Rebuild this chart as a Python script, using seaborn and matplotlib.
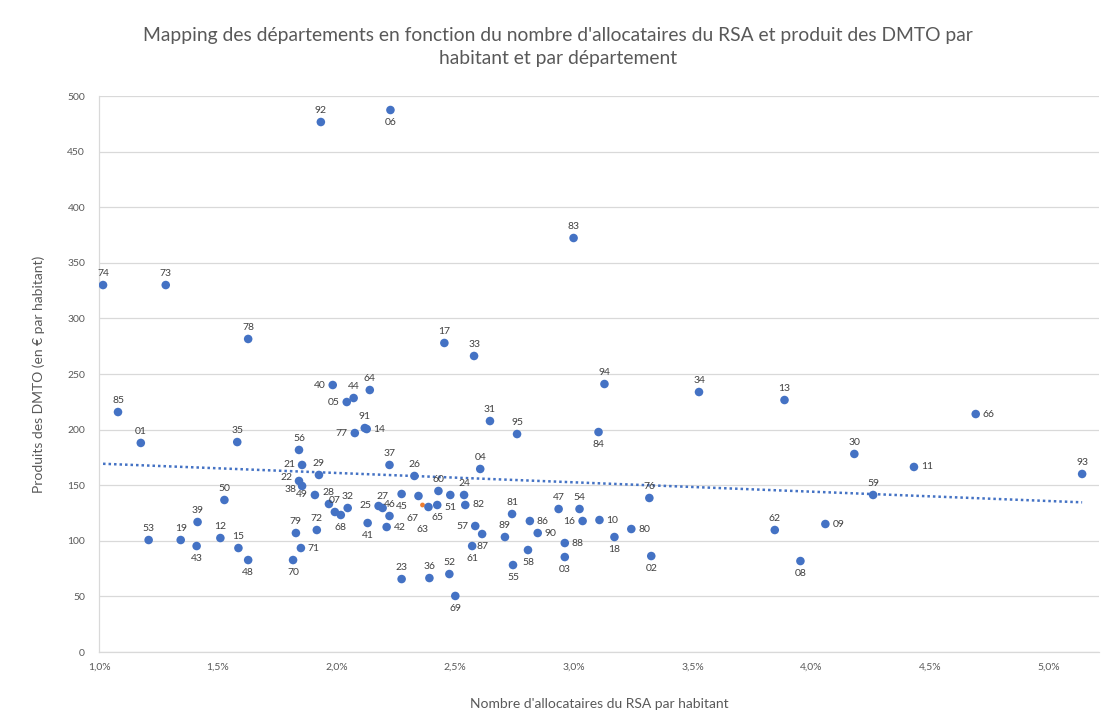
import numpy as np
import pandas as pd
import matplotlib
matplotlib.use("Agg")
import matplotlib.pyplot as plt
import seaborn as sns

# ---- data ----
depts = ["74","73","85","01","78","35","53","19","43","39","50","12","15","48",
         "92","06","56","21","29","22","38","49","28","07","68","32","79","72","71","70",
         "40","44","05","64","91","14","77","37","26","27","25","46","42","41",
         "45","67","63","65","60","51","24","82",
         "17","33","31","95","04","83","94","84","34","13","66","30","11","93","59","62","09","08",
         "76","80","02","18","10","16","54","47","88","03","81","86","90","89","58","55","57","87","61",
         "23","36","52","69"]
rsa_pct = [1.017,1.281,1.080,1.176,1.628,1.582,1.209,1.344,1.411,1.415,1.528,1.511,1.587,1.628,
           1.934,2.227,1.842,1.855,1.926,1.842,1.855,1.909,1.968,1.993,2.018,2.047,1.829,1.917,1.850,1.817,
           1.984,2.072,2.043,2.140,2.119,2.127,2.077,2.223,2.328,2.194,2.177,2.223,2.211,2.131,
           2.274,2.345,2.387,2.424,2.429,2.479,2.537,2.542,
           2.454,2.579,2.646,2.760,2.605,2.998,3.128,3.103,3.526,3.886,4.691,4.180,4.431,5.139,4.259,3.845,4.058,3.953,
           3.317,3.241,3.325,3.170,3.107,3.036,3.023,2.935,2.961,2.961,2.739,2.814,2.847,2.709,2.806,2.743,2.584,2.613,2.571,
           2.274,2.391,2.475,2.500]
dmto = [330.0,330.0,215.8,188.0,281.5,188.8,100.7,100.7,95.3,116.9,136.7,102.5,93.5,82.7,
        476.6,487.4,181.7,168.2,159.2,153.8,149.3,141.2,133.1,125.9,123.2,129.5,107.0,109.7,93.5,82.7,
        240.1,228.4,224.8,235.6,201.4,200.5,196.9,168.2,158.3,129.5,131.3,122.3,112.4,116.0,
        142.1,140.3,130.4,132.2,144.8,141.2,141.2,132.2,
        277.9,266.2,207.7,196.0,164.6,372.3,241.0,197.8,233.8,226.6,214.0,178.1,166.4,160.1,141.2,109.7,115.1,81.8,
        138.5,110.6,86.3,103.4,118.7,117.8,128.6,128.6,98.0,85.4,124.1,117.8,107.0,103.4,91.7,78.2,113.3,106.1,95.3,
        65.6,66.5,70.1,50.4]
# small orange point (second series)
extra_x = [2.362]
extra_y = [132.2]

x_ticks = [1.0, 1.5, 2.0, 2.5, 3.0, 3.5, 4.0, 4.5, 5.0]
x_tick_labels = ["1,0%", "1,5%", "2,0%", "2,5%", "3,0%", "3,5%", "4,0%", "4,5%", "5,0%"]
y_ticks = [0, 50, 100, 150, 200, 250, 300, 350, 400, 450, 500]

# label placement: a=above, b=below, r=right, l=left, bb=further below
label_pos = {"43":"b","48":"b","06":"b","21":"l","22":"lu","38":"ld","49":"l","68":"b",
             "71":"r","70":"b","40":"l","05":"l","14":"r","77":"l","25":"l","42":"r","41":"b",
             "45":"b","67":"bb","63":"bb","65":"b","51":"b","82":"r","84":"b","66":"r","11":"r",
             "09":"r","08":"b","80":"r","02":"b","18":"b","10":"r","16":"l","88":"r","03":"b",
             "86":"r","90":"r","58":"b","55":"b","57":"l","87":"b","61":"b","69":"b"}

df = pd.DataFrame({"dept": depts, "rsa": rsa_pct, "dmto": dmto})

# ---- style ----
sns.set_theme(style="white")
plt.rcParams["font.family"] = ["Lato", "DejaVu Sans"]

grey_txt = "#595959"
blue = "#4472C4"

fig = plt.figure(figsize=(11.18, 7.22), dpi=100)
ax = fig.add_axes([99/1118, 1-652/722, (1099-99)/1118, (652-96)/722])

sns.scatterplot(data=df, x="rsa", y="dmto", ax=ax, color=blue, s=38,
                edgecolor="none", zorder=3, legend=False)
ax.scatter(extra_x, extra_y, color="#ED7D31", s=12, zorder=2, edgecolor="none")

# linear trend line (dotted)
coef = np.polyfit(df["rsa"], df["dmto"], 1)
xs = np.array([df["rsa"].min(), df["rsa"].max()])
ax.plot(xs, np.polyval(coef, xs), linestyle=(0, (1, 1.2)), color=blue, lw=1.8, zorder=2)

# data labels
offs = {"a": (0, 8, "center", "center"), "b": (0, -9, "center", "center"),
        "bb": (-4, -16, "center", "center"),
        "r": (5, 0, "left", "center"), "l": (-5, 0, "right", "center"),
        "lu": (-5, 2.5, "right", "center"), "ld": (-4, -2.5, "right", "center")}
for d, xv, yv in zip(depts, rsa_pct, dmto):
    dx, dy, ha, va = offs[label_pos.get(d, "a")]
    ax.annotate(d, (xv, yv), xytext=(dx, dy), textcoords="offset points",
                ha=ha, va=va, fontsize=7.5, color="#404040", zorder=4)

ax.set_xlim(1.0, 5.21)
ax.set_ylim(0, 500)
ax.set_xticks(x_ticks)
ax.set_xticklabels(x_tick_labels)
ax.set_yticks(y_ticks)
ax.tick_params(axis="both", labelsize=7.5, colors=grey_txt, length=4, width=0.8)
ax.tick_params(axis="x", length=4, color="#d9d9d9")
ax.tick_params(axis="y", length=4, color="#d9d9d9", pad=6)
ax.yaxis.grid(True, color="#d9d9d9", lw=0.9)
ax.xaxis.grid(False)
for side in ["top", "right"]:
    ax.spines[side].set_visible(False)
for side in ["left", "bottom"]:
    ax.spines[side].set_color("#d9d9d9")
    ax.spines[side].set_linewidth(0.9)

ax.set_xlabel("Nombre d'allocataires du RSA par habitant", fontsize=10, color=grey_txt, labelpad=19)
ax.set_ylabel("Produits des DMTO (en € par habitant)", fontsize=10, color=grey_txt, labelpad=16)

fig.text(558/1118, 1-47/722,
         "Mapping des départements en fonction du nombre d'allocataires du RSA et produit des DMTO par\nhabitant et par département",
         ha="center", va="center", fontsize=13.9, color=grey_txt, linespacing=1.45)

fig.savefig("out.png", dpi=100, facecolor="white")
